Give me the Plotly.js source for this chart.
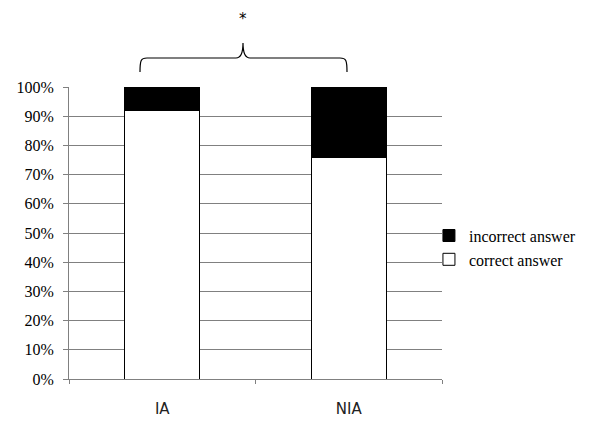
<!DOCTYPE html>
<html>
<head>
<script src="https://cdn.plot.ly/plotly-3.0.1.min.js"></script>
<style>body{margin:0;background:#fff}</style>
</head>
<body>
<div id="chart" style="width:595px;height:436px"></div>
<script>
const categories = ["IA", "NIA"];
const correctValues = [92, 76];
const incorrectValues = [8, 24];
const seriesNames = ["correct answer", "incorrect answer"];
const yTickVals = [0, 10, 20, 30, 40, 50, 60, 70, 80, 90, 100];
const yTickText = ["0%", "10%", "20%", "30%", "40%", "50%", "60%", "70%", "80%", "90%", "100%"];
const significance = "*";

const traces = [
  {type: "bar", x: categories, y: correctValues, name: seriesNames[0],
   marker: {color: "#ffffff", line: {color: "#000000", width: 1}}, width: 0.4},
  {type: "bar", x: categories, y: incorrectValues, name: seriesNames[1],
   marker: {color: "#000000", line: {color: "#000000", width: 1}}, width: 0.4}
];

// brace in paper coords
function px(x){ return (x - 69) / 373; }
function py(y){ return (379 - y) / 292; }
const bracePath = `M ${px(140)} ${py(72)} C ${px(140)} ${py(60)} ${px(141)} ${py(58)} ${px(147)} ${py(58)} L ${px(236)} ${py(58)} C ${px(241)} ${py(58)} ${px(243)} ${py(52)} ${px(243)} ${py(43)} C ${px(243)} ${py(52)} ${px(245)} ${py(58)} ${px(250)} ${py(58)} L ${px(340)} ${py(58)} C ${px(346)} ${py(58)} ${px(347)} ${py(60)} ${px(347)} ${py(72)}`;

const layout = {
  width: 595, height: 436,
  margin: {l: 69, r: 153, t: 87, b: 57, autoexpand: false},
  paper_bgcolor: "#fff", plot_bgcolor: "#fff",
  barmode: "stack",
  showlegend: true,
  legend: {x: 0.965, y: 0.45, xanchor: "left", yanchor: "middle", traceorder: "reversed",
    font: {family: "Liberation Serif, Times New Roman, serif", size: 16, color: "#000"},
    itemwidth: 30, tracegroupgap: 0, bgcolor: "rgba(0,0,0,0)"},
  xaxis: {type: "category", showgrid: false, showline: true, linecolor: "#808080", linewidth: 1,
    ticks: "outside", ticklen: 4, tickcolor: "#808080", tickson: "boundaries",
    ticklabelstandoff: 16,
    tickfont: {family: "DejaVu Sans, Verdana, sans-serif", size: 15, color: "#222"},
    range: [-0.5, 1.5], fixedrange: true},
  yaxis: {range: [0, 100], tickvals: yTickVals, ticktext: yTickText,
    showgrid: true, gridcolor: "#808080", gridwidth: 1, zeroline: false,
    showline: true, linecolor: "#808080", linewidth: 1,
    ticks: "outside", ticklen: 5, tickcolor: "#808080", ticklabelstandoff: 6,
    tickfont: {family: "Liberation Serif, Times New Roman, serif", size: 16, color: "#000"}},
  shapes: [
    {type: "path", xref: "paper", yref: "paper", path: bracePath, line: {color: "#000", width: 1.2}}
  ],
  annotations: [
    {xref: "paper", yref: "paper", x: px(243), y: py(8), text: significance, showarrow: false,
     font: {family: "DejaVu Sans, sans-serif", size: 15, color: "#000"}}
  ]
};

Plotly.newPlot("chart", traces, layout, {staticPlot: true, displayModeBar: false});
</script>
</body>
</html>
